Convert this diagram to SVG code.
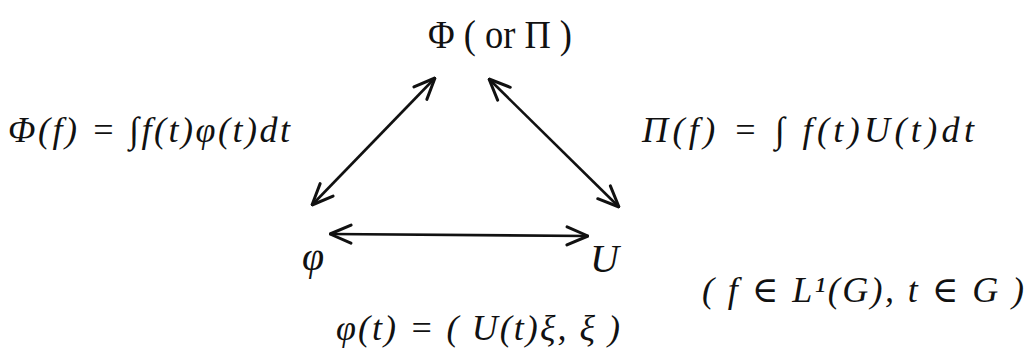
<svg xmlns="http://www.w3.org/2000/svg" width="1032" height="356" viewBox="0 0 1032 356">
<style>
text { font-family: "Liberation Serif", "DejaVu Serif", serif; font-style: italic; fill: #111; }
.node { font-size: 40px; }
.up { font-style: normal; }
.lbl { font-size: 36px; }
.conn { stroke: #111; stroke-width: 2.6; fill: none; marker-start: url(#ah); marker-end: url(#ah); }
</style>
<defs>
<marker id="ah" viewBox="0 0 24 24" refX="23" refY="12" markerWidth="24" markerHeight="24" markerUnits="userSpaceOnUse" orient="auto-start-reverse">
<path d="M2,3 L23,12 L2,21" fill="none" stroke="#111" stroke-width="3" stroke-linecap="round" stroke-linejoin="round"/>
</marker>
</defs>
<rect width="1032" height="356" fill="#fff"/>
<g id="connectors">
<line class="conn" x1="312" y1="205" x2="435" y2="78"/>
<line class="conn" x1="489" y1="79" x2="619" y2="207"/>
<line class="conn" x1="330" y1="234" x2="588" y2="236"/>
</g>
<g id="node-top"><text class="node up" x="428" y="48" textLength="144" lengthAdjust="spacingAndGlyphs">Φ ( or Π )</text></g>
<g id="node-phi"><text class="node" x="302" y="270">φ</text></g>
<g id="node-U"><text class="node" x="590" y="272">U</text></g>
<g id="label-left"><text class="lbl" x="8" y="142" textLength="282" lengthAdjust="spacing">Φ(f) = ∫f(t)φ(t)dt</text></g>
<g id="label-right"><text class="lbl" x="642" y="142" textLength="332" lengthAdjust="spacing">Π(f) = ∫ f(t)U(t)dt</text></g>
<g id="label-domain"><text class="lbl" x="702" y="302" textLength="322" lengthAdjust="spacing">( f ∈ L¹(G), t ∈ G )</text></g>
<g id="label-bottom"><text class="lbl" x="336" y="340" textLength="284" lengthAdjust="spacing">φ(t) = ( U(t)ξ, ξ )</text></g>
</svg>
